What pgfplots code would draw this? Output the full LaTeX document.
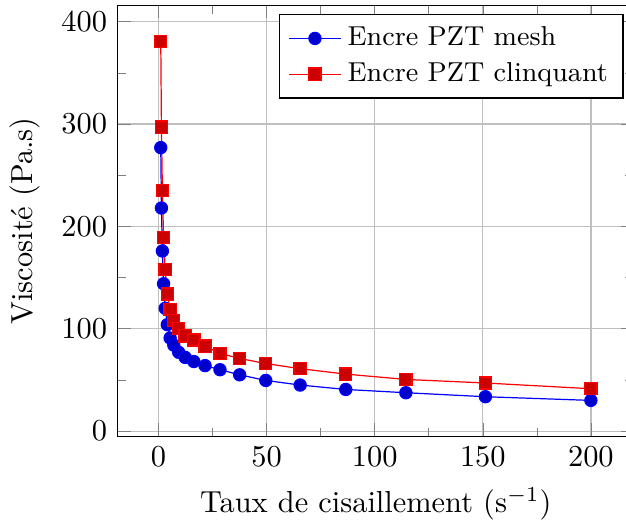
\documentclass[border=0pt]{standalone}
\usepackage{pgfplots}
\pgfplotsset{compat=1.18}
\begin{document}
\begin{tikzpicture}
\begin{axis}[
  scale only axis,
  width=169.8pt, height=141.8pt,
  grid=major,
  minor tick num=1,
  xlabel={Taux de cisaillement (s$^{-1}$)},
  ylabel={Viscosit\'e (Pa.s)},
  legend cell align=left,
  legend style={font=\small, at={(0.98,0.98)}, anchor=north east},
]
\addplot coordinates {
(1,277) (1.32,218) (1.75,176) (2.31,144) (3.05,120) (4.03,104) (5.33,91) (7.04,84) (9.30,77) (12.3,72)
(16.3,68) (21.5,64) (28.4,60) (37.5,55) (49.6,49.5) (65.5,45) (86.6,40.7) (114.4,37.5) (151.2,33.6) (200,30)
};
\addlegendentry{Encre PZT mesh}
\addplot coordinates {
(1,381) (1.32,297) (1.75,235) (2.31,189) (3.05,158) (4.03,134) (5.33,119) (7.04,108) (9.30,100) (12.3,93)
(16.3,89) (21.5,83) (28.4,76) (37.5,71) (49.6,66) (65.5,61) (86.6,55.7) (114.4,50.5) (151.2,47) (200,41.4)
};
\addlegendentry{Encre PZT clinquant}
\end{axis}
\pgfresetboundingbox
\useasboundingbox (current axis.outer south west) rectangle ([xshift=-2.8pt,yshift=0.6pt]current axis.outer north east);
\end{tikzpicture}
\end{document}
